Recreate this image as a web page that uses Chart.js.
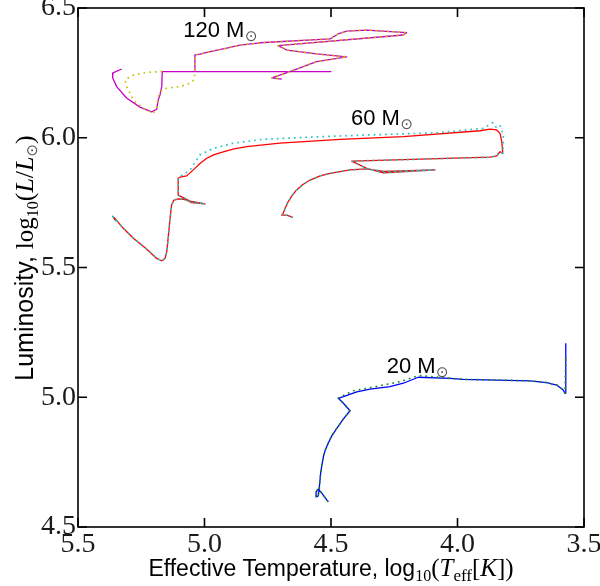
<!DOCTYPE html>
<html>
<head>
<meta charset="utf-8">
<script src="https://cdn.jsdelivr.net/npm/chart.js"></script>
<style>
  body { margin: 0; background: #fff; }
  #wrap { width: 600px; height: 586px; }
</style>
</head>
<body>
<div id="wrap"><canvas id="hr" width="600" height="586"></canvas></div>
<script>
// Evolutionary tracks, log10(Teff) and log10(L/Lsun)

// 120 Msun, solid magenta
const m120T = [5.327, 5.362, 5.363, 5.347, 5.308, 5.255, 5.209, 5.189, 5.183, 5.176, 5.169, 5.167, 4.500, 5.038, 5.038, 5.018, 4.978, 4.912, 4.860, 4.781, 4.504, 4.472, 4.438, 4.359, 4.201, 4.215, 4.709, 4.675, 4.557, 4.438, 4.557, 4.662, 4.734, 4.694];
const m120L = [6.265, 6.250, 6.230, 6.197, 6.153, 6.118, 6.100, 6.110, 6.145, 6.165, 6.197, 6.255, 6.255, 6.255, 6.319, 6.322, 6.332, 6.345, 6.357, 6.366, 6.381, 6.400, 6.411, 6.415, 6.405, 6.396, 6.355, 6.338, 6.323, 6.312, 6.293, 6.255, 6.231, 6.226];
// 120 Msun, dotted yellow
const m120dT = [5.167, 5.227, 5.281, 5.314, 5.308, 5.281, 5.242, 5.202, 5.189, 5.183, 5.169, 5.149, 5.097, 5.057, 5.042, 5.038, 5.038, 5.018, 4.978, 4.912, 4.860, 4.781, 4.504, 4.472, 4.438, 4.359, 4.201, 4.215, 4.709, 4.675, 4.557, 4.438, 4.557, 4.662, 4.734, 4.694];
const m120dL = [6.255, 6.252, 6.242, 6.223, 6.197, 6.145, 6.113, 6.094, 6.120, 6.158, 6.184, 6.191, 6.197, 6.210, 6.223, 6.248, 6.319, 6.322, 6.332, 6.345, 6.357, 6.366, 6.381, 6.400, 6.411, 6.415, 6.405, 6.396, 6.355, 6.338, 6.323, 6.312, 6.293, 6.255, 6.231, 6.226];

// 60 Msun, solid red
const m60T = [5.350, 5.363, 5.354, 5.321, 5.281, 5.228, 5.189, 5.169, 5.156, 5.149, 5.143, 5.136, 5.130, 5.121, 5.104, 5.084, 5.064, 5.051, 4.998, 5.057, 5.104, 5.104, 5.097, 5.070, 5.038, 5.018, 4.991, 4.962, 4.926, 4.883, 4.833, 4.702, 4.464, 4.214, 3.911, 3.872, 3.845, 3.832, 3.825, 3.821, 3.832, 3.845, 3.872, 4.418, 4.359, 4.293, 4.089, 4.293, 4.359, 4.425, 4.504, 4.543, 4.583, 4.611, 4.636, 4.654, 4.669, 4.680, 4.689, 4.695, 4.675, 4.651];
const m60L = [5.679, 5.697, 5.689, 5.651, 5.613, 5.570, 5.535, 5.526, 5.535, 5.561, 5.619, 5.690, 5.741, 5.760, 5.764, 5.763, 5.757, 5.750, 5.745, 5.756, 5.779, 5.844, 5.848, 5.853, 5.882, 5.901, 5.921, 5.935, 5.946, 5.957, 5.966, 5.979, 5.994, 6.004, 6.027, 6.033, 6.030, 6.017, 5.985, 5.940, 5.946, 5.930, 5.925, 5.910, 5.882, 5.865, 5.876, 5.870, 5.880, 5.876, 5.863, 5.853, 5.837, 5.820, 5.799, 5.777, 5.754, 5.731, 5.709, 5.702, 5.702, 5.693];
// 60 Msun, dotted cyan
const m60dT = [5.350, 5.363, 5.354, 5.321, 5.281, 5.228, 5.189, 5.169, 5.156, 5.149, 5.143, 5.136, 5.130, 5.121, 5.104, 5.084, 5.064, 5.051, 4.998, 5.057, 5.104, 5.104, 5.097, 5.057, 5.018, 4.965, 4.886, 4.768, 4.570, 4.346, 4.082, 3.898, 3.861, 3.848, 3.832, 3.819, 3.819, 3.821, 3.832, 3.845, 3.872, 4.418, 4.359, 4.293, 4.089, 4.293, 4.359, 4.425, 4.504, 4.543, 4.583, 4.611, 4.636, 4.654, 4.669, 4.680, 4.689, 4.695, 4.675, 4.651];
const m60dL = [5.679, 5.697, 5.689, 5.651, 5.613, 5.570, 5.535, 5.526, 5.535, 5.561, 5.619, 5.690, 5.741, 5.760, 5.764, 5.763, 5.757, 5.750, 5.745, 5.756, 5.779, 5.844, 5.850, 5.876, 5.934, 5.959, 5.979, 5.994, 6.003, 6.011, 6.019, 6.036, 6.058, 6.041, 6.049, 6.011, 5.979, 5.940, 5.946, 5.930, 5.925, 5.910, 5.882, 5.865, 5.876, 5.870, 5.880, 5.876, 5.863, 5.853, 5.837, 5.820, 5.799, 5.777, 5.754, 5.731, 5.709, 5.702, 5.702, 5.693];

// 20 Msun, solid blue
const m20T = [4.511, 4.540, 4.551, 4.559, 4.559, 4.551, 4.547, 4.541, 4.536, 4.530, 4.522, 4.511, 4.496, 4.477, 4.453, 4.425, 4.451, 4.471, 4.451, 4.398, 4.346, 4.267, 4.214, 4.155, 4.030, 3.977, 3.845, 3.713, 3.647, 3.608, 3.582, 3.575, 3.572];
const m20L = [4.597, 4.635, 4.646, 4.635, 4.616, 4.619, 4.643, 4.707, 4.739, 4.771, 4.799, 4.823, 4.853, 4.880, 4.914, 4.948, 4.977, 4.996, 5.002, 5.021, 5.031, 5.041, 5.054, 5.077, 5.073, 5.069, 5.066, 5.063, 5.056, 5.047, 5.028, 5.015, 5.208];
// 20 Msun, dotted green
const m20dT = [4.511, 4.540, 4.551, 4.559, 4.559, 4.551, 4.547, 4.541, 4.536, 4.530, 4.522, 4.511, 4.496, 4.477, 4.453, 4.425, 4.451, 4.471, 4.451, 4.412, 4.359, 4.293, 4.227, 4.175, 4.148, 4.030, 3.977, 3.845, 3.713, 3.647, 3.608, 3.582, 3.575, 3.572];
const m20dL = [4.597, 4.635, 4.646, 4.635, 4.616, 4.619, 4.643, 4.707, 4.739, 4.771, 4.799, 4.823, 4.853, 4.880, 4.914, 4.948, 4.977, 4.996, 5.007, 5.025, 5.034, 5.047, 5.060, 5.077, 5.083, 5.073, 5.069, 5.066, 5.063, 5.056, 5.047, 5.028, 5.015, 5.163];

// mass labels (left edge, baseline) in data units
const labelText = ["120 M", "60 M", "20 M"];
const labelT = [5.084, 4.421, 4.280];
const labelL = [6.389, 6.051, 5.093];

const xTicks = [5.5, 5.0, 4.5, 4.0, 3.5];
const yTicks = [4.5, 5.0, 5.5, 6.0, 6.5];

const SANS = '"Liberation Sans", Arial, sans-serif';
const SERIF = '"Liberation Serif", "Times New Roman", serif';

function pts(xs, ys) {
    return xs.map((x, i) => ({ x: x, y: ys[i] }));
}

function track(label, xs, ys, color, dotted) {
    return {
        label: label,
        data: pts(xs, ys),
        showLine: true,
        borderColor: color,
        borderWidth: dotted ? 1.7 : 1.3,
        borderDash: dotted ? [1.7, 4] : [],
        borderJoinStyle: "round",
        pointRadius: 0,
        fill: false,
        tension: 0,
        order: dotted ? 0 : 1,
    };
}

function drawRich(ctx, parts, x, y) {
    parts.forEach((p) => {
        ctx.font = p.f;
        ctx.fillStyle = p.c || "#000";
        ctx.fillText(p.t, x, y + (p.dy || 0));
        x += ctx.measureText(p.t).width;
    });
    return x;
}

function richWidth(ctx, parts) {
    let w = 0;
    parts.forEach((p) => {
        ctx.font = p.f;
        w += ctx.measureText(p.t).width;
    });
    return w;
}

const sun = { t: "\u2299", f: '15px "DejaVu Sans"', dy: 4, c: "#555" };

const xTitle = [
    { t: "Effective Temperature, log", f: "23px " + SANS },
    { t: "10", f: "16px " + SERIF, dy: 5 },
    { t: "(", f: "25px " + SERIF },
    { t: "T", f: "italic 25px " + SERIF },
    { t: "eff", f: "17px " + SERIF, dy: 5 },
    { t: "[", f: "25px " + SERIF },
    { t: "K", f: "italic 25px " + SERIF },
    { t: "])", f: "25px " + SERIF },
];

const yTitle = [
    { t: "Luminosity, ", f: "25px " + SANS },
    { t: "log", f: "25px " + SERIF },
    { t: "10", f: "16px " + SERIF, dy: 5 },
    { t: "(", f: "26px " + SERIF },
    { t: "L", f: "italic 26px " + SERIF },
    { t: "/", f: "26px " + SERIF },
    { t: "L", f: "italic 26px " + SERIF },
    sun,
    { t: ")", f: "26px " + SERIF },
];

const framePlugin = {
    id: "frame",
    afterDatasetsDraw(chart) {
        const { ctx, chartArea: a, scales } = chart;
        const x = scales.x;
        const y = scales.y;
        ctx.save();
        ctx.strokeStyle = "#000";
        ctx.lineWidth = 1.6;
        ctx.strokeRect(a.left, a.top, a.right - a.left, a.bottom - a.top);
        ctx.beginPath();
        xTicks.forEach((v) => {
            const p = x.getPixelForValue(v);
            ctx.moveTo(p, a.bottom);
            ctx.lineTo(p, a.bottom - 9);
            ctx.moveTo(p, a.top);
            ctx.lineTo(p, a.top + 9);
        });
        yTicks.forEach((v) => {
            const p = y.getPixelForValue(v);
            ctx.moveTo(a.left, p);
            ctx.lineTo(a.left + 9, p);
            ctx.moveTo(a.right, p);
            ctx.lineTo(a.right - 9, p);
        });
        ctx.stroke();

        // mass labels
        ctx.textBaseline = "alphabetic";
        ctx.textAlign = "left";
        labelText.forEach((t, i) => {
            const px = x.getPixelForValue(labelT[i]);
            const py = y.getPixelForValue(labelL[i]);
            drawRich(ctx, [{ t: t, f: "22px " + SANS }, { t: " ", f: "2px " + SANS }, sun], px, py);
        });
        ctx.restore();
    },
    afterDraw(chart) {
        const { ctx, chartArea: a } = chart;
        ctx.save();
        ctx.textBaseline = "alphabetic";
        ctx.textAlign = "left";
        const cx = (a.left + a.right) / 2;
        const wx = richWidth(ctx, xTitle);
        drawRich(ctx, xTitle, cx - wx / 2, 576);

        const wy = richWidth(ctx, yTitle);
        ctx.translate(33, 258);
        ctx.rotate(-Math.PI / 2);
        drawRich(ctx, yTitle, -wy / 2, 0);
        ctx.restore();
    },
};

const tickFont = { family: "Liberation Serif", size: 28 };

new Chart(document.getElementById("hr"), {
    type: "scatter",
    data: {
        datasets: [
            track("120 dotted", m120dT, m120dL, "#c4c400", true),
            track("60 dotted", m60dT, m60dL, "#22c4c4", true),
            track("20 dotted", m20dT, m20dL, "#1a8a1a", true),
            track("120", m120T, m120L, "#c800c8", false),
            track("60", m60T, m60L, "#ff0000", false),
            track("20", m20T, m20L, "#0000ff", false),
        ],
    },
    options: {
        responsive: false,
        animation: false,
        devicePixelRatio: 1,
        layout: { padding: { top: 8, right: 16, left: 0, bottom: 0 } },
        plugins: {
            legend: { display: false },
            tooltip: { enabled: false },
        },
        scales: {
            x: {
                type: "linear",
                reverse: true,
                min: 3.5,
                max: 5.5,
                afterBuildTicks: (s) => {
                    s.ticks = xTicks.map((v) => ({ value: v }));
                },
                afterFit: (s) => {
                    s.height = 59;
                    s.paddingLeft = 0;
                    s.paddingRight = 0;
                },
                grid: { display: false, drawTicks: false },
                border: { display: false },
                ticks: {
                    font: tickFont,
                    color: "#1a1a1a",
                    padding: 1,
                    maxRotation: 0,
                    autoSkip: false,
                    callback: (v) => Number(v).toFixed(1),
                },
            },
            y: {
                type: "linear",
                min: 4.5,
                max: 6.5,
                afterBuildTicks: (s) => {
                    s.ticks = yTicks.map((v) => ({ value: v }));
                },
                afterFit: (s) => {
                    s.width = 78;
                    s.paddingTop = 0;
                    s.paddingBottom = 0;
                },
                grid: { display: false, drawTicks: false },
                border: { display: false },
                ticks: {
                    font: tickFont,
                    color: "#1a1a1a",
                    padding: 2,
                    autoSkip: false,
                    callback: (v) => Number(v).toFixed(1),
                },
            },
        },
    },
    plugins: [framePlugin],
});
</script>
</body>
</html>
